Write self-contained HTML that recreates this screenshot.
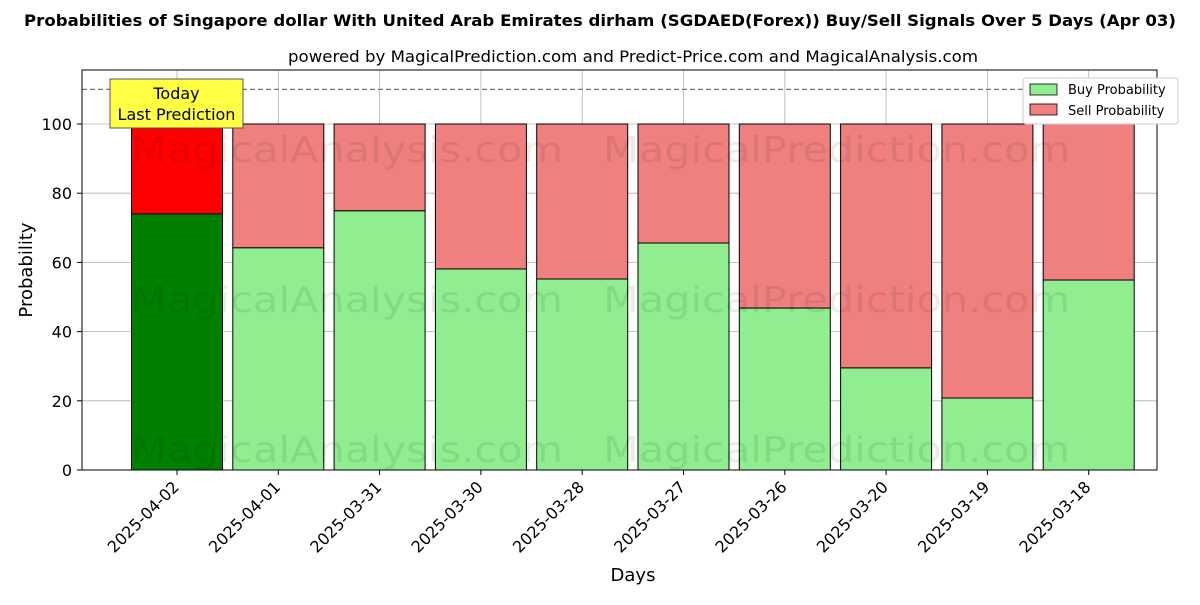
<!DOCTYPE html>
<html><head><meta charset="utf-8"><style>
body{margin:0;background:#fff;}
svg text{font-family:"DejaVu Sans","Liberation Sans",sans-serif;}
</style></head><body>
<svg id="chart" width="1200" height="600" xmlns="http://www.w3.org/2000/svg">
<rect width="1200" height="600" fill="#fff"/>
<text x="600" y="26" text-anchor="middle" font-size="16" font-weight="bold" textLength="1152" lengthAdjust="spacingAndGlyphs">Probabilities of Singapore dollar With United Arab Emirates dirham (SGDAED(Forex)) Buy/Sell Signals Over 5 Days (Apr 03)</text>
<text x="633" y="62" text-anchor="middle" font-size="16" textLength="690" lengthAdjust="spacingAndGlyphs">powered by MagicalPrediction.com and Predict-Price.com and MagicalAnalysis.com</text>
<g id="grid"></g>
<g id="bars"></g>
<g font-size="36" fill="#000" opacity="0.08">
<text x="131" y="162" textLength="432" lengthAdjust="spacingAndGlyphs">MagicalAnalysis.com</text><text x="603" y="162" textLength="467" lengthAdjust="spacingAndGlyphs">MagicalPrediction.com</text>
<text x="131" y="312" textLength="432" lengthAdjust="spacingAndGlyphs">MagicalAnalysis.com</text><text x="603" y="312" textLength="467" lengthAdjust="spacingAndGlyphs">MagicalPrediction.com</text>
<text x="131" y="462" textLength="432" lengthAdjust="spacingAndGlyphs">MagicalAnalysis.com</text><text x="603" y="462" textLength="467" lengthAdjust="spacingAndGlyphs">MagicalPrediction.com</text>
</g>
<line x1="82" x2="1157" y1="89.4" y2="89.4" stroke="#777" stroke-dasharray="5,3" stroke-width="1.2"/>
<rect x="82" y="70" width="1075" height="400" fill="none" stroke="#000" stroke-width="1"/>
<g id="axes"></g>
<g>
<rect x="110" y="79" width="133" height="49" fill="#ffff44" stroke="#555" stroke-width="1"/>
<text x="176.5" y="99" text-anchor="middle" font-size="16">Today</text>
<text x="176.5" y="120" text-anchor="middle" font-size="16">Last Prediction</text>
</g>
<g>
<rect x="1023" y="78" width="155" height="46" fill="#fff" stroke="#ccc" rx="3"/>
<rect x="1030" y="84" width="27" height="11" fill="#90ee90" stroke="#000" stroke-width="0.8"/>
<text x="1068" y="94" font-size="13">Buy Probability</text>
<rect x="1030" y="104" width="27" height="11" fill="#f08080" stroke="#000" stroke-width="0.8"/>
<text x="1068" y="115" font-size="13">Sell Probability</text>
</g>
<text x="633" y="581" text-anchor="middle" font-size="18">Days</text>
<text transform="translate(32,270) rotate(-90)" text-anchor="middle" font-size="18">Probability</text>
</svg>
<script>
const categories=["2025-04-02","2025-04-01","2025-03-31","2025-03-30","2025-03-28","2025-03-27","2025-03-26","2025-03-20","2025-03-19","2025-03-18"];
const buyValues=[74,64.2,74.9,58.1,55.2,65.6,46.8,29.5,20.8,54.9];
const yTicks=[0,20,40,60,80,100];
const NS="http://www.w3.org/2000/svg";
const xScale=i=>177+i*101.3;
const yScale=v=>470-v*3.46;
const bw=91;
function mk(tag,attrs,parent){const e=document.createElementNS(NS,tag);for(const k in attrs)e.setAttribute(k,attrs[k]);parent.appendChild(e);return e;}
const grid=document.getElementById('grid'),bars=document.getElementById('bars'),axes=document.getElementById('axes');
yTicks.forEach(t=>{
 const y=yScale(t);
 const g=mk('line',{x1:82,x2:1157,y1:y,y2:y,stroke:'#b0b0b0','stroke-width':0.8},grid);
 
 
 mk('line',{x1:77,x2:82,y1:y,y2:y,stroke:'#000'},axes);
 const tx=mk('text',{x:72,y:y+6,'text-anchor':'end','font-size':16},axes);
 tx.textContent=t;
 
 
});
categories.forEach((c,i)=>{
 const x=xScale(i);
 const g=mk('line',{x1:x,x2:x,y1:70,y2:470,stroke:'#b0b0b0','stroke-width':0.8},grid);
 
 
 const b=buyValues[i];
 const s=mk('rect',{x:x-bw/2,y:yScale(100),width:bw,height:yScale(b)-yScale(100),fill:i==0?'#ff0000':'#f08080',stroke:'#000','stroke-width':1},bars);
 
 
 const r=mk('rect',{x:x-bw/2,y:yScale(b),width:bw,height:yScale(0)-yScale(b),fill:i==0?'#008000':'#90ee90',stroke:'#000','stroke-width':1},bars);
 
 
 mk('line',{x1:x,x2:x,y1:470,y2:475,stroke:'#000'},axes);
 const tx=mk('text',{x:0,y:0,'text-anchor':'end','font-size':16,transform:`translate(${x+3},${488}) rotate(-45)`},axes);
 tx.textContent=c;
 
 
});
</script>
</body></html>
